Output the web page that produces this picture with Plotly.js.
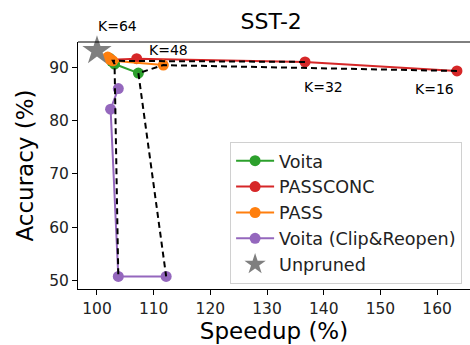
<!DOCTYPE html>
<html><head><meta charset="utf-8">
<script src="https://cdn.plot.ly/plotly-3.0.1.min.js"></script>
<style>html,body{margin:0;padding:0;overflow:hidden;background:#fff}</style>
</head><body><div id="chart" style="width:470px;height:345px"></div>
<script>
// K values for each method point (order matches arrays below)
const kValues = [64, 48, 32, 16];
const voitaX = [102.2, 102.6, 103.1, 107.3];
const voitaY = [91.7, 91.1, 90.6, 88.9];
const passconcX = [102.5, 107.0, 136.7, 163.5];
const passconcY = [91.4, 91.6, 91.0, 89.3];
const passX = [101.9, 102.3, 102.8, 111.7];
const passY = [91.9, 91.5, 91.2, 90.4];
const clipX = [103.76, 102.4, 103.76, 112.2];
const clipY = [86.0, 82.15, 50.8, 50.8];
const unprunedX = [100.0];
const unprunedY = [93.1];
const dashedK = [32, 16];
const kLabels = ["K=64", "K=48", "K=32", "K=16"];
const kLabelX = [103.7, 112.6, 140.0, 159.5];
const kLabelY = [97.8, 93.2, 86.3, 85.9];

const methods = [
  {name: "Voita", x: voitaX, y: voitaY, color: "#2ca02c"},
  {name: "PASSCONC", x: passconcX, y: passconcY, color: "#d62728"},
  {name: "PASS", x: passX, y: passY, color: "#ff7f0e"},
  {name: "Voita (Clip&Reopen)", x: clipX, y: clipY, color: "#9467bd"}
];
const dashOrder = [1, 2, 0, 3]; // PASSCONC -> PASS -> Voita -> Clip

const traces = [];
methods.forEach(m => traces.push({
  type: "scatter", mode: "lines+markers", name: m.name, x: m.x, y: m.y,
  line: {color: m.color, width: 2}, marker: {color: m.color, size: 11}
}));
dashedK.forEach(k => {
  const i = kValues.indexOf(k);
  traces.push({
    type: "scatter", mode: "lines", showlegend: false, hoverinfo: "skip",
    x: dashOrder.map(j => methods[j].x[i]),
    y: dashOrder.map(j => methods[j].y[i]),
    line: {color: "#000", width: 2, dash: "6px,4px"}
  });
});
traces.push({
  type: "scatter", mode: "markers", name: "Unpruned", x: unprunedX, y: unprunedY,
  marker: {symbol: "star", size: 22, color: "#7f7f7f"}, cliponaxis: false
});

const yr = [48.45, 94.73];
const layout = {
  width: 470, height: 345,
  margin: {l: 78, r: 0, t: 42, b: 56},
  paper_bgcolor: "#fff", plot_bgcolor: "#fff",
  font: {family: "DejaVu Sans", size: 15.5, color: "#000"},
  title: {text: "SST-2", font: {family: "DejaVu Sans", size: 22, color: "#000"},
          x: 0.577, xanchor: "center", xref: "container", y: 0.961, yanchor: "top"},
  xaxis: {
    range: [96.65, 165.8], tickvals: [100,110,120,130,140,150,160],
    showgrid: false, zeroline: false, showline: true, linecolor: "#000", linewidth: 1,
    ticks: "outside", ticklen: 5, tickcolor: "#000",
    tickfont: {family: "DejaVu Sans", size: 15.5, color: "#222"},
    title: {text: "Speedup (%)", font: {family: "DejaVu Sans", size: 23, color: "#000"}, standoff: 6}
  },
  yaxis: {
    range: yr, tickvals: [50,60,70,80,90],
    showgrid: false, zeroline: false, showline: true, linecolor: "#000", linewidth: 1,
    ticks: "outside", ticklen: 5, tickcolor: "#000",
    tickfont: {family: "DejaVu Sans", size: 15.5, color: "#222"},
    title: {text: "Accuracy (%)", font: {family: "DejaVu Sans", size: 23, color: "#000"}, standoff: 9}
  },
  shapes: [{type: "line", xref: "paper", yref: "paper", x0: 0, x1: 1, y0: 1, y1: 1,
            line: {color: "#000", width: 1}}],
  legend: {
    x: 0.388, y: 0.596, xanchor: "left", yanchor: "top",
    bgcolor: "rgba(255,255,255,0.85)", bordercolor: "#d0d0d0", borderwidth: 1,
    itemwidth: 38,
    font: {family: "DejaVu Sans", size: 17.6, color: "#222"}
  },
  annotations: kLabels.map((t, i) => ({
    text: t, x: kLabelX[i],
    y: (kLabelY[i] - yr[0]) / (yr[1] - yr[0]), xref: "x", yref: "paper",
    xanchor: "center", yanchor: "middle",
    showarrow: false, font: {family: "DejaVu Sans", size: 14, color: "#000"}
  })),
  showlegend: true
};
Plotly.newPlot("chart", traces, layout, {displayModeBar: false, staticPlot: true});
</script></body></html>
